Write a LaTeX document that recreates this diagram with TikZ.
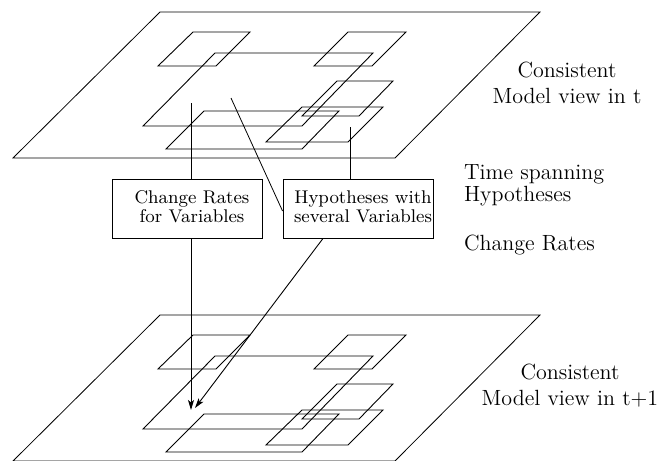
\documentclass[tikz,border=0pt]{standalone}
\usetikzlibrary{arrows.meta,calc}
\begin{document}
\begin{tikzpicture}[x=0.5pt,y=-0.5pt,
  edge/.style={line width=0.4pt},
  patch/.style={line width=0.45pt},
  box/.style={draw, line width=0.45pt, rectangle, inner sep=0pt,
    minimum width=75pt, minimum height=29.5pt,
    font=\fontsize{9.2}{10.5}\selectfont},
  label/.style={font=\fontsize{11}{13}\selectfont},
  flow/.style={line width=0.45pt, -{Stealth[length=5pt,width=3pt,inset=1.2pt]}}]
\useasboundingbox (0,0) rectangle (666,462);
\clip (0,0) rectangle (666,460.5);

% one model layer: the plane and the variable patches lying in it
\newcommand\modellayer{%
  \draw[edge] (13,158) -- (395,158) -- (540,12) -- (160,12) -- cycle;
  \draw[patch] (158,66) -- (216,66) -- (250,32) -- (193,32) -- cycle;
  \draw[patch] (314,66) -- (372,66) -- (406,32) -- (348,32) -- cycle;
  \draw[patch] (143,126) -- (302,126) -- (373,53) -- (215,53) -- cycle;
  \draw[patch] (302,116) -- (359,116) -- (393,81) -- (337,81) -- cycle;
  \draw[patch] (266,142) -- (348,142) -- (383,107) -- (302,107) -- cycle;
  \draw[patch] (166,149) -- (302,149) -- (339,111) -- (204,111) -- cycle;
}

% layer at time t
\modellayer
% layer at time t+1
\begin{scope}[shift={(0,303)}]
  \modellayer
\end{scope}

% anchor points inside the layers
\coordinate (p1) at (191,103);
\coordinate (p2) at (231,98);
\coordinate (p3) at (350,127);
\coordinate (q1) at (191,410);
\coordinate (q2) at (195,408);

% hypothesis boxes
\node[box] (cr) at (187,208.5)
  {\hskip5pt\raisebox{-1pt}{\begin{tabular}{@{}c@{}}Change Rates\\[-1pt]for Variables\end{tabular}}};
\node[box] (hy) at (358,208.5)
  {\hskip5pt\raisebox{-1pt}{\begin{tabular}{@{}c@{}}Hypotheses with\\[-1pt]several Variables\end{tabular}}};

% connectors
\draw[edge] (p1) -- (p1 |- cr.north);
\draw[edge] (p2) -- ($(hy.west)+(0,2.5)$);
\draw[edge] (p3) -- (p3 |- hy.north);
\draw[flow] (cr.south -| p1) -- (q1);
\draw[flow] ($(hy.south)+(-35,0)$) -- (q2);

% side labels (base anchor sits on the last line)
\node[label, align=center, anchor=base] (lt) at (567,103)
  {Consistent\\Model view in t};
\node[label, align=left, anchor=base west, font=\fontsize{11}{9}\selectfont] (ts) at (457,201.5)
  {Time spanning\\Hypotheses};
\node[label, anchor=base west] (cg) at (457,250) {Change Rates};
\node[label, align=center, anchor=base] (lb) at (570,405)
  {Consistent\\Model view in t+1};
\end{tikzpicture}
\end{document}
